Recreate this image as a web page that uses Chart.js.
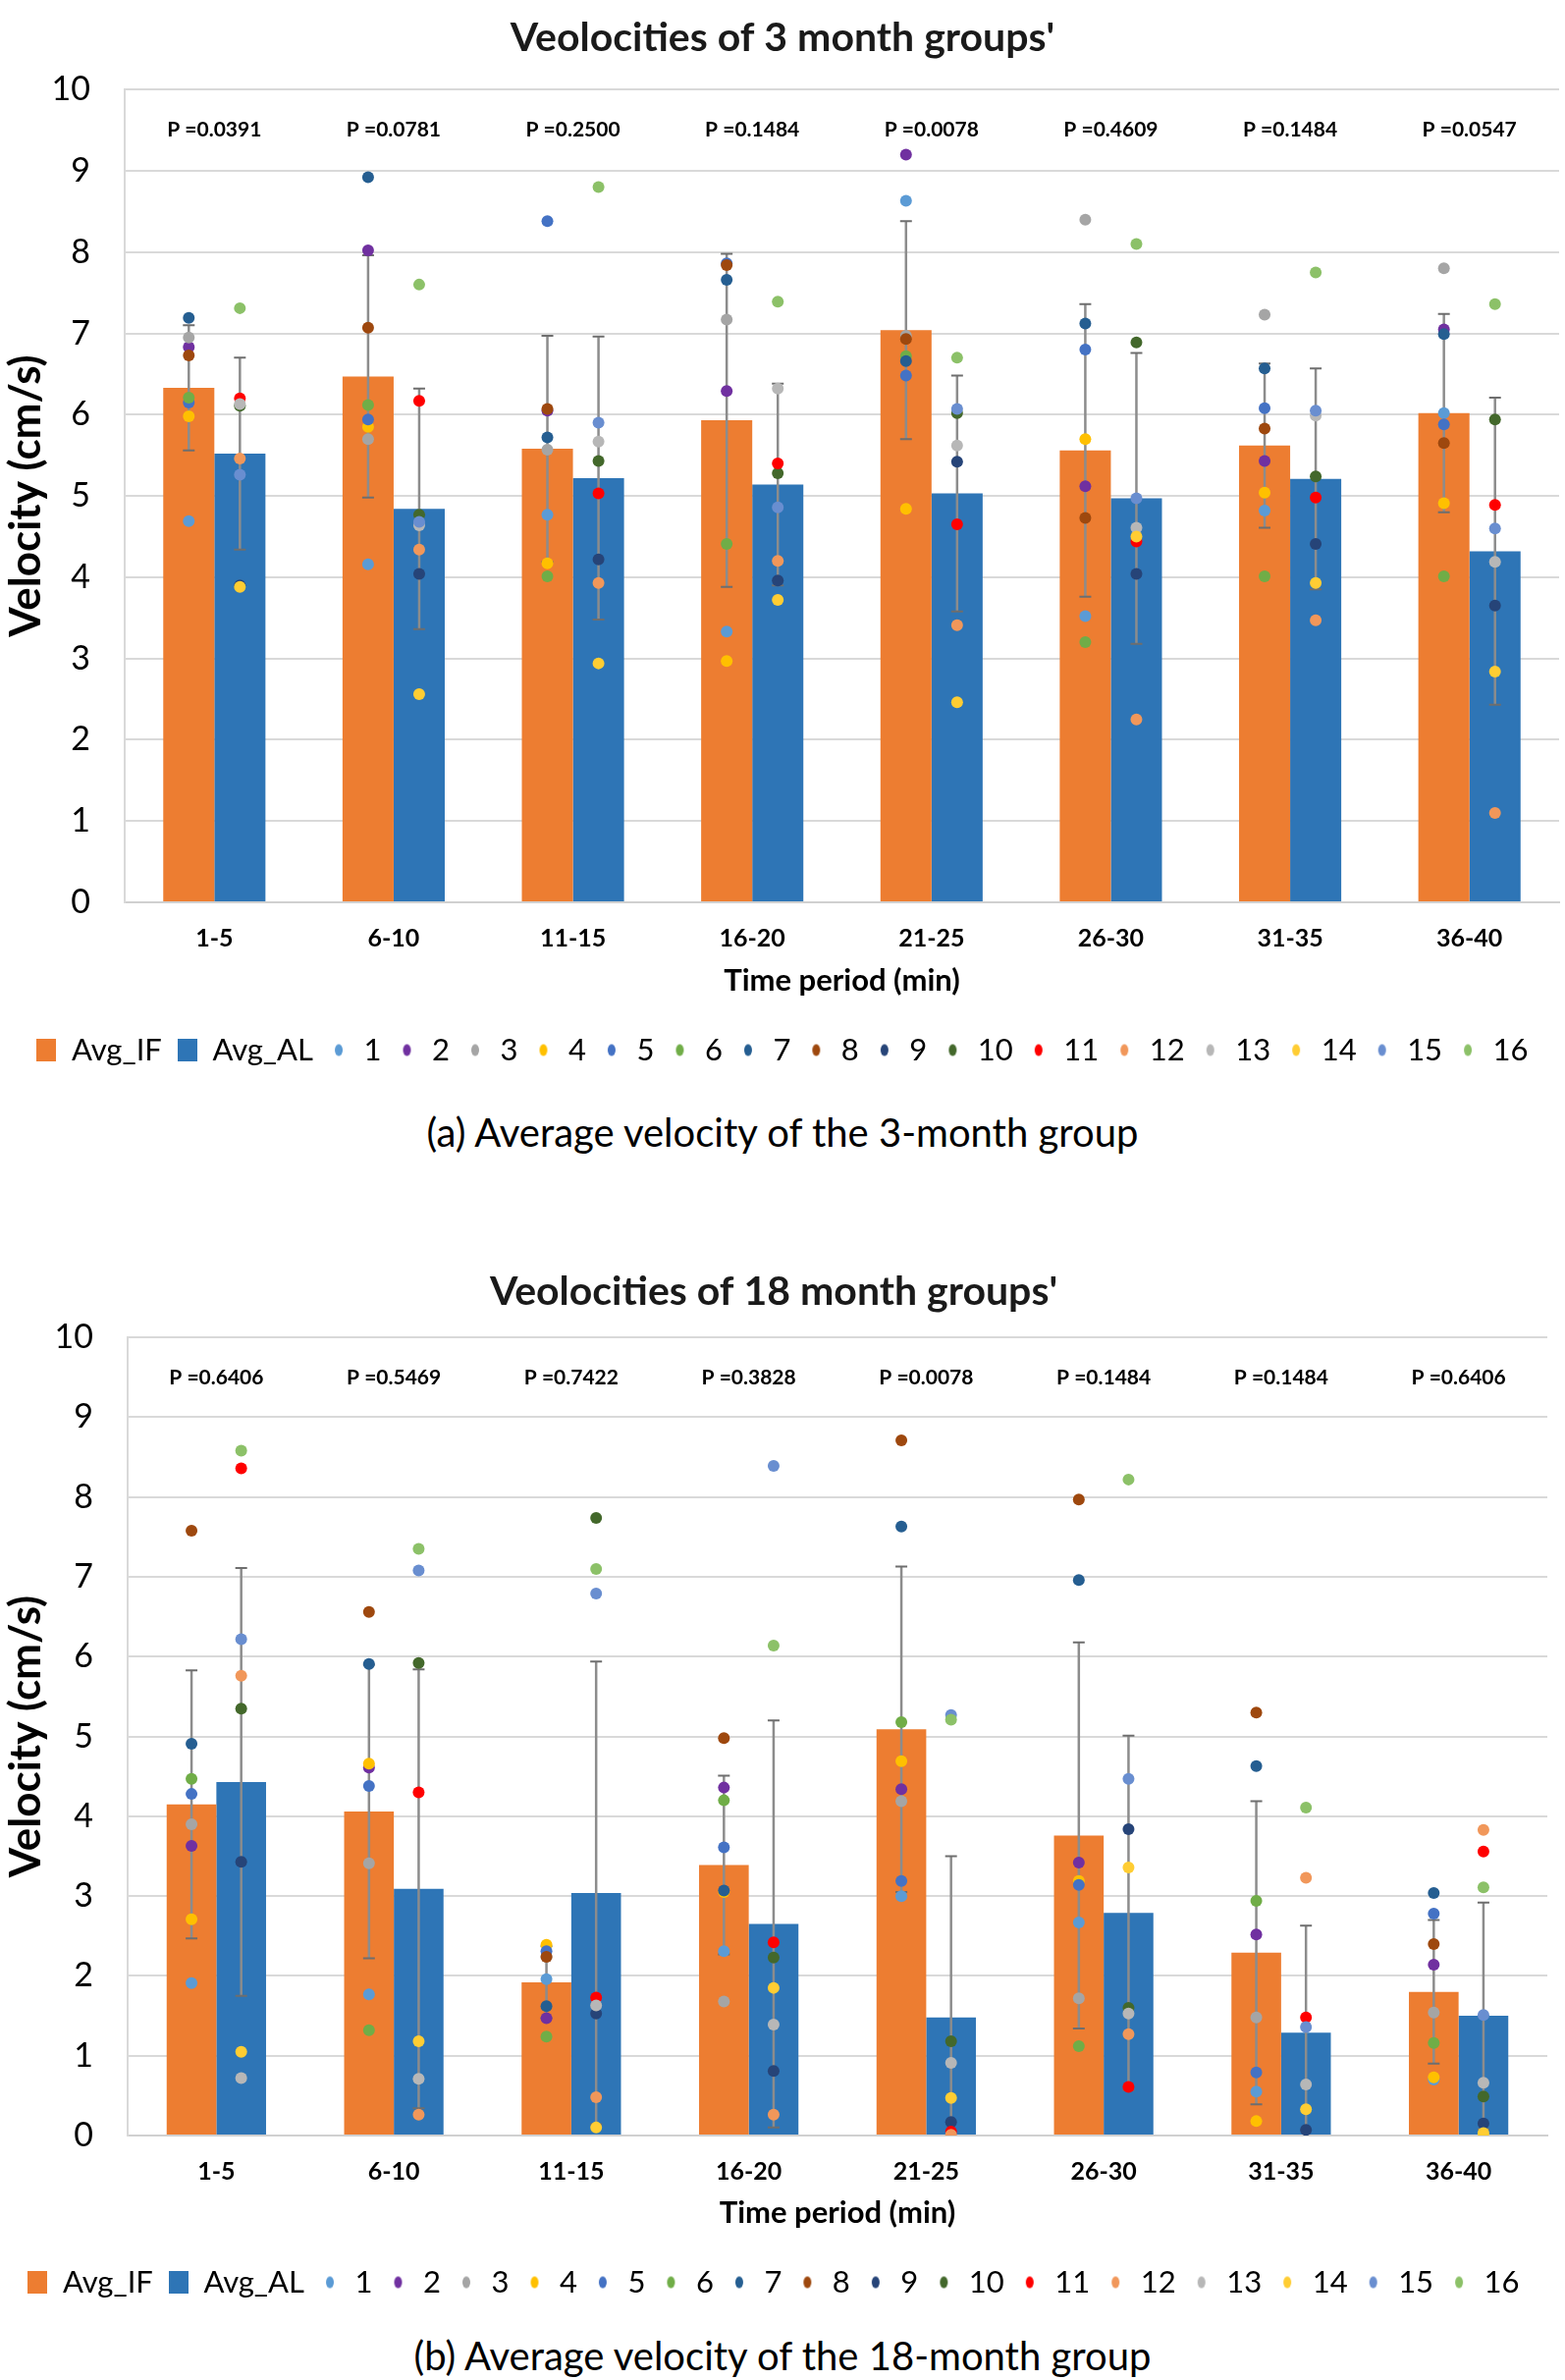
<!DOCTYPE html>
<html><head><meta charset="utf-8">
<script src="https://cdn.jsdelivr.net/npm/chart.js@4/dist/chart.umd.min.js"></script>
<style>
html,body{margin:0;padding:0;background:#fff;}
body{width:1594px;height:2424px;position:relative;overflow:hidden;font-family:Lato,"Open Sans",sans-serif;}
.wrap{position:absolute;left:0;width:1594px;}
.cap{position:absolute;left:0;width:1594px;text-align:center;font-size:40px;color:#000;line-height:1;}
</style></head><body>
<div class="wrap" style="top:0;height:1105px;"><canvas id="c1"></canvas></div>
<div class="cap" style="top:1133px;">(a) Average velocity of the 3-month group</div>
<div class="wrap" style="top:1275px;height:1085px;"><canvas id="c2"></canvas></div>
<div class="cap" style="top:2379px;">(b) Average velocity of the 18-month group</div>
<script>
// ---------- DATA ----------
const categories = ["1-5","6-10","11-15","16-20","21-25","26-30","31-35","36-40"];
const subjectLabels = ["1","2","3","4","5","6","7","8","9","10","11","12","13","14","15","16"];
const yTicks = [0,1,2,3,4,5,6,7,8,9,10];

// 3-month group
const pValues3 = ["P =0.0391","P =0.0781","P =0.2500","P =0.1484","P =0.0078","P =0.4609","P =0.1484","P =0.0547"];
const avgIF3 = [6.33, 6.47, 5.58, 5.93, 7.04, 5.56, 5.62, 6.02];
const errIF3 = [0.77, 1.49, 1.39, 2.05, 1.34, 1.80, 1.01, 1.22];
const avgAL3 = [5.52, 4.84, 5.22, 5.14, 5.03, 4.97, 5.21, 4.32];
const errAL3 = [1.18, 1.48, 1.74, 1.24, 1.45, 1.79, 1.36, 1.89];
const subjects3 = [
  [4.69, 4.16, 4.77, 3.33, 8.63, 3.52, 4.82, 6.02], // 1
  [6.83, 8.02, 6.05, 6.29, 9.20, 5.12, 5.43, 7.05], // 2
  [6.95, 5.70, 5.57, 7.17, 6.97, 8.40, 7.23, 7.80], // 3
  [5.98, 5.85, 4.17, 2.97, 4.84, 5.70, 5.04, 4.91], // 4
  [6.15, 5.94, 8.38, 7.86, 6.48, 6.80, 6.08, 5.88], // 5
  [6.21, 6.12, 4.01, 4.41, 6.72, 3.20, 4.01, 4.01], // 6
  [7.19, 8.92, 5.72, 7.66, 6.66, 7.12, 6.57, 6.99], // 7
  [6.73, 7.07, 6.07, 7.84, 6.93, 4.73, 5.83, 5.65], // 8
  [3.90, 4.04, 4.22, 3.96, 5.42, 4.04, 4.41, 3.65], // 9
  [6.11, 4.77, 5.43, 5.28, 6.02, 6.89, 5.24, 5.94], // 10
  [6.20, 6.17, 5.03, 5.40, 4.65, 4.44, 4.98, 4.89], // 11
  [5.46, 4.34, 3.93, 4.20, 3.41, 2.25, 3.47, 1.10], // 12
  [6.13, 4.64, 5.67, 6.32, 5.62, 4.61, 5.99, 4.19], // 13
  [3.88, 2.56, 2.94, 3.72, 2.46, 4.50, 3.93, 2.84], // 14
  [5.26, 4.68, 5.90, 4.86, 6.07, 4.97, 6.05, 4.60], // 15
  [7.31, 7.60, 8.80, 7.39, 6.70, 8.10, 7.75, 7.36]  // 16
];

// 18-month group
const pValues18 = ["P =0.6406","P =0.5469","P =0.7422","P =0.3828","P =0.0078","P =0.1484","P =0.1484","P =0.6406"];
const avgIF18 = [4.15, 4.06, 1.92, 3.39, 5.09, 3.76, 2.29, 1.80];
const errIF18 = [1.68, 1.84, 0.45, 1.12, 2.04, 2.42, 1.90, 0.90];
const avgAL18 = [4.43, 3.09, 3.04, 2.65, 1.48, 2.79, 1.29, 1.50];
const errAL18 = [2.68, 2.75, 2.90, 2.55, 2.02, 2.22, 1.34, 1.42];
const subjects18 = [
  [1.91, 1.77, 1.96, 2.31, 3.00, 2.67, 0.55, 0.70], // 1
  [3.63, 4.61, 1.47, 4.36, 4.34, 3.42, 2.52, 2.14], // 2
  [3.90, 3.41, 2.24, 1.68, 4.19, 1.72, 1.48, 1.54], // 3
  [2.71, 4.66, 2.39, 3.05, 4.69, 3.19, 0.18, 0.73], // 4
  [4.28, 4.38, 2.31, 3.61, 3.19, 3.14, 0.79, 2.78], // 5
  [4.47, 1.32, 1.24, 4.20, 5.18, 1.12, 2.94, 1.16], // 6
  [4.91, 5.91, 1.62, 3.07, 7.63, 6.96, 4.63, 3.04], // 7
  [7.58, 6.56, 2.24, 4.98, 8.71, 7.97, 5.30, 2.40], // 8
  [3.43, null, 1.53, 0.81, 0.17, 3.84, 0.07, 0.15], // 9
  [5.35, 5.92, 7.74, 2.23, 1.18, 1.60, null, 0.49], // 10
  [8.36, 4.30, 1.73, 2.42, 0.05, 0.61, 1.48, 3.56], // 11
  [5.76, 0.26, 0.48, 0.26, 0.01, 1.27, 3.23, 3.83], // 12
  [0.72, 0.71, 1.63, 1.39, 0.91, 1.53, 0.64, 0.66], // 13
  [1.05, 1.18, 0.10, 1.85, 0.47, 3.36, 0.33, 0.03], // 14
  [6.22, 7.08, 6.79, 8.39, 5.27, 4.47, 1.36, 1.51], // 15
  [8.58, 7.35, 7.10, 6.14, 5.21, 8.22, 4.11, 3.11]  // 16
];

// ---------- STYLE ----------
const FONT = 'Lato, "Open Sans", sans-serif';
const IF_COLOR = '#ED7D31';
const AL_COLOR = '#2E75B6';
const subjectColors = ['#5B9BD5','#7030A0','#A5A5A5','#FFC000','#4472C4','#70AD47','#255E91','#9E480E',
                       '#264478','#43682B','#FF0000','#F1975A','#B7B7B7','#FFCD33','#698ED0','#8CC168'];

function makeRect(color, w, h) {
  const c = document.createElement('canvas'); c.width = w; c.height = h;
  const g = c.getContext('2d'); g.fillStyle = color; g.fillRect(0, 0, w, h); return c;
}
function makeEllipse(color, rx, ry) {
  const c = document.createElement('canvas'); c.width = rx * 2 + 2; c.height = ry * 2 + 2;
  const g = c.getContext('2d'); g.fillStyle = color; g.beginPath();
  g.ellipse(rx + 1, ry + 1, rx, ry, 0, 0, Math.PI * 2); g.fill(); return c;
}

// Place each subject dot over its group's bar (IF for 1-8, AL for 9-16)
const dotPlacer = {
  id: 'dotPlacer',
  afterDatasetsUpdate(chart) {
    chart.data.datasets.forEach((ds, i) => {
      if (ds.barRef === undefined) return;
      const barMeta = chart.getDatasetMeta(ds.barRef);
      const meta = chart.getDatasetMeta(i);
      meta.data.forEach((pt, j) => { if (barMeta.data[j]) pt.x = barMeta.data[j].x; });
    });
  }
};

// Error bars drawn from the bar datasets' values through the y scale
const errorBars = {
  id: 'errorBars',
  afterDatasetDraw(chart, args) {
    if (args.index !== 0) return;
    const y = chart.scales.y, ctx = chart.ctx;
    ctx.save();
    [0, 1].forEach(di => {
      const ds = chart.data.datasets[di];
      const meta = chart.getDatasetMeta(di);
      meta.data.forEach((bar, j) => {
        const v = ds.data[j], e = ds.errors[j];
        const hi = Math.min(y.max, v + e), lo = Math.max(y.min, v - e);
        const yHi = y.getPixelForValue(hi), yLo = y.getPixelForValue(lo);
        ctx.strokeStyle = '#8C8C8C'; ctx.lineWidth = 2.5;
        ctx.beginPath(); ctx.moveTo(bar.x, yHi); ctx.lineTo(bar.x, yLo); ctx.stroke();
        ctx.strokeStyle = '#6E6E6E'; ctx.lineWidth = 2;
        ctx.beginPath();
        ctx.moveTo(bar.x - 6, yHi); ctx.lineTo(bar.x + 6, yHi);
        if (v - e > y.min) { ctx.moveTo(bar.x - 6, yLo); ctx.lineTo(bar.x + 6, yLo); }
        ctx.stroke();
      });
    });
    ctx.restore();
  }
};

// P-value labels above each category
const pLabels = {
  id: 'pLabels',
  afterDraw(chart, args, opts) {
    const x = chart.scales.x, y = chart.scales.y, ctx = chart.ctx;
    ctx.save();
    ctx.font = 'bold 21px ' + FONT; ctx.fillStyle = '#000';
    ctx.textAlign = 'center'; ctx.textBaseline = 'middle';
    opts.labels.forEach((t, i) => ctx.fillText(t, x.getPixelForValue(i), y.getPixelForValue(opts.at)));
    ctx.restore();
  }
};

function buildChart(id, cfg) {
  const datasets = [
    { type: 'bar', label: 'Avg_IF', data: cfg.avgIF, errors: cfg.errIF, backgroundColor: IF_COLOR, order: 20,
      categoryPercentage: cfg.catPct, barPercentage: 1.0, legendMarker: makeRect(IF_COLOR, 20, 23) },
    { type: 'bar', label: 'Avg_AL', data: cfg.avgAL, errors: cfg.errAL, backgroundColor: AL_COLOR, order: 21,
      categoryPercentage: cfg.catPct, barPercentage: 1.0, legendMarker: makeRect(AL_COLOR, 20, 23) }
  ];
  cfg.subjects.forEach((vals, k) => {
    datasets.push({
      type: 'line', label: subjectLabels[k], data: vals, showLine: false,
      pointRadius: 6, pointHoverRadius: 6, pointBorderWidth: 0,
      pointBackgroundColor: subjectColors[k], backgroundColor: subjectColors[k], borderColor: subjectColors[k],
      order: 16 - k, barRef: k < 8 ? 0 : 1, legendMarker: makeEllipse(subjectColors[k], 4, 6)
    });
  });
  return new Chart(document.getElementById(id), {
    data: { labels: categories, datasets },
    options: {
      responsive: true, maintainAspectRatio: false, animation: false,
      layout: { padding: { left: 0, right: cfg.padRight, top: 0, bottom: cfg.padBottom } },
      plugins: {
        title: { display: true, text: cfg.title, color: '#1a1a1a',
                 font: { family: FONT, size: 41, weight: 'bold' }, padding: cfg.titlePad },
        legend: {
          position: 'bottom',
          labels: {
            usePointStyle: true, boxWidth: 20, boxHeight: 20, padding: 16, color: '#000',
            font: { family: FONT, size: 31 },
            generateLabels(chart) {
              return chart.data.datasets.map((ds, i) => ({
                text: ds.label, fillStyle: ds.backgroundColor, strokeStyle: ds.backgroundColor,
                lineWidth: 0, pointStyle: ds.legendMarker, hidden: false, datasetIndex: i, fontColor: '#000'
              }));
            }
          }
        },
        tooltip: { enabled: false },
        pLabels: { labels: cfg.pLabels, at: 9.5 }
      },
      scales: {
        x: {
          afterFit(scale) { scale.height = cfg.xHeight; },
          grid: { display: false, drawTicks: false },
          border: { display: true, color: '#D0D0D0', width: 2 },
          ticks: { color: '#000', font: { family: FONT, size: 25, weight: 'bold' }, padding: 22 },
          title: { display: true, text: 'Time period (min)', color: '#000',
                   font: { family: FONT, size: 31, weight: 'bold' }, padding: { top: 0, bottom: 20 } }
        },
        y: {
          min: 0, max: 10,
          afterBuildTicks(scale) { scale.ticks = yTicks.map(v => ({ value: v })); },
          afterFit(scale) { scale.width = cfg.yWidth; },
          grid: { color: '#D9D9D9', lineWidth: 2, drawTicks: false },
          border: { display: true, color: '#D9D9D9', width: 2 },
          ticks: { color: '#000', font: { family: FONT, size: 34 }, padding: 35 },
          title: { display: true, text: 'Velocity (cm/s)', color: '#000',
                   font: { family: FONT, size: 44, weight: 'bold' }, padding: { top: 0, bottom: 0 } }
        }
      }
    },
    plugins: [dotPlacer, errorBars, pLabels]
  });
}

buildChart('c1', {
  title: "Veolocities of 3 month groups'", titlePad: { top: 14, bottom: 28 },
  avgIF: avgIF3, errIF: errIF3, avgAL: avgAL3, errAL: errAL3, subjects: subjects3,
  pLabels: pValues3, catPct: 0.57, padRight: 0, padBottom: 10, xHeight: 119, yWidth: 127
});
buildChart('c2', {
  title: "Veolocities of 18 month groups'", titlePad: { top: 16, bottom: 22 },
  avgIF: avgIF18, errIF: errIF18, avgAL: avgAL18, errAL: errAL18, subjects: subjects18,
  pLabels: pValues18, catPct: 0.56, padRight: 18, padBottom: 10, xHeight: 118, yWidth: 130
});
</script>
</body></html>
